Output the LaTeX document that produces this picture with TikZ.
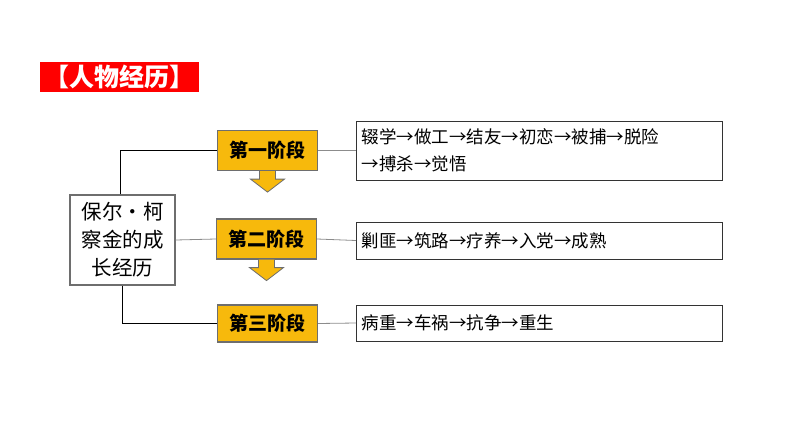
\documentclass[tikz,border=0pt]{standalone}
\usepackage{fontspec}
\newfontfamily\cjk{Noto Sans CJK SC}
\definecolor{gold}{HTML}{F7B90C}
\definecolor{bord}{HTML}{6E6E6E}
\begin{document}
\begin{tikzpicture}[x=1pt,y=-1pt,font=\cjk,
 stage/.style={draw=bord,line width=1.2pt,fill=gold,minimum width=100pt,minimum height=40pt,font=\cjk\bfseries\fontsize{19}{22}\selectfont,inner sep=0pt},
 info/.style={draw=black!80,line width=1pt,fill=white,text width=356pt,anchor=west,align=left,inner xsep=5pt,inner ysep=3pt,font=\cjk\fontsize{17.5}{27}\selectfont},
 gline/.style={draw=black!45,line width=0.8pt},
 bline/.style={draw=black,line width=1pt},
 darrow/.style={draw=bord,fill=gold,line width=0.8pt}]
\useasboundingbox (0,0) rectangle (794,447);
\node[fill=red,minimum width=159pt,minimum height=30pt,inner sep=0pt,text=white,font=\cjk\bfseries\fontsize{25}{28}\selectfont] (title) at (119.5,77) {【人物经历】};
\node[draw=bord,line width=1.2pt,fill=white,minimum width=105pt,minimum height=90pt,align=center,font=\cjk\fontsize{20.5}{28}\selectfont,inner sep=1pt] (main) at (122.5,240) {保尔·柯\\察金的成\\长经历};
\node[stage] (s1) at (267.5,150.5) {第一阶段};
\node[stage] (s2) at (266.5,239) {第二阶段};
\node[stage,minimum height=37pt] (s3) at (267.5,323.5) {第三阶段};
\node[info,minimum height=59pt] (b1) at (356,150.5) {辍学→做工→结友→初恋→被捕→脱险\\→搏杀→觉悟};
\node[info,minimum height=37pt] (b2) at (356,240.5) {剿匪→筑路→疗养→入党→成熟};
\node[info,minimum height=36pt] (b3) at (356,323) {病重→车祸→抗争→重生};
\draw[bline] (main.north -| 120,0) |- (s1.west);
\draw[bline] (main.south -| 122,0) |- (s3.west);
\draw[gline] (main.east) -- (s2.west);
\draw[gline] (s1.east) -- (b1.west);
\draw[gline] (s2.east) -- (b2.west);
\draw[gline] (s3.east) -- (b3.west);
\coordinate (a1) at (s1.south);
\coordinate (a2) at (s2.south);
\foreach \a in {a1,a2}{
 \draw[darrow] ([xshift=-8pt]\a) -- ([xshift=-8pt,yshift=-8pt]\a) -- ([xshift=-17pt,yshift=-8pt]\a) -- ([yshift=-21pt]\a) -- ([xshift=17pt,yshift=-8pt]\a) -- ([xshift=8pt,yshift=-8pt]\a) -- ([xshift=8pt]\a);
}
\end{tikzpicture}
\end{document}
